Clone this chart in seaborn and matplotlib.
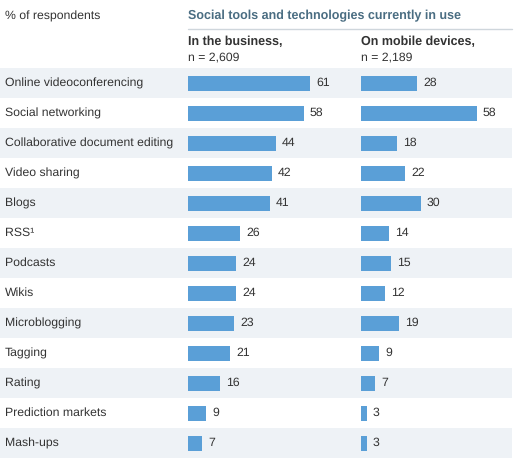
import numpy as np
import matplotlib
matplotlib.use('Agg')
import matplotlib.pyplot as plt
import pandas as pd
import seaborn as sns

# Datos
tools = ['Online videoconferencing', 'Social networking', 'Collaborative document editing',
         'Video sharing', 'Blogs', 'RSS¹', 'Podcasts', 'Wikis', 'Microblogging',
         'Tagging', 'Rating', 'Prediction markets', 'Mash-ups']
business = [61, 58, 44, 42, 41, 26, 24, 24, 23, 21, 16, 9, 7]
mobile = [28, 58, 18, 22, 30, 14, 15, 12, 19, 9, 7, 3, 3]
col_titles = ['In the business,', 'On mobile devices,']
col_n = ['n = 2,609', 'n = 2,189']

df = pd.DataFrame({'tool': tools, 'business': business, 'mobile': mobile})

sns.set_style('white')
plt.rcParams['font.family'] = ['Liberation Sans', 'DejaVu Sans']
plt.rcParams['text.hinting'] = 'no_hinting'
BAR = '#5a9fd7'
BAND = '#eef2f6'
TXT = '#333333'
FS = 8.8

W, H = 520, 467
fig = plt.figure(figsize=(W / 100, H / 100), dpi=100)

def frac(x0, y0, w, h):
    # caja en pixeles (origen arriba-izquierda) -> fraccion de figura
    return [x0 / W, 1 - (y0 + h) / H, w / W, h / H]

top, rows_h = 68, 390
n = len(tools)

# Fondo con bandas alternadas
bg = fig.add_axes(frac(0, top, 512, rows_h))
bg.set_xlim(0, 512)
bg.set_ylim(n - 0.5, -0.5)
for i in range(n):
    if i % 2 == 0:
        bg.axhspan(i - 0.5, i + 0.5, color=BAND, lw=0)
    bg.text(5, i, tools[i], va='center', ha='left', fontsize=FS, color=TXT)
bg.axis('off')

for k, (col, x0) in enumerate([('business', 188), ('mobile', 361)]):
    ax = fig.add_axes(frac(x0, top, 140, rows_h))
    ax.patch.set_alpha(0)
    sns.barplot(data=df, x=col, y='tool', color=BAR, width=0.5, ax=ax,
                saturation=1, orient='h', linewidth=0, edgecolor='none')
    ax.set_xlim(0, 70)
    ax.set_ylim(n - 0.5, -0.5)
    for i, v in enumerate(df[col]):
        ax.text(v + 3, i, str(v), va='center', ha='left', fontsize=FS, color=TXT)
    ax.axis('off')
    fig.text(x0 / W, 1 - 42 / H, col_titles[k], fontsize=9, fontweight='bold',
             color=TXT, va='center')
    fig.text(x0 / W, 1 - 57 / H, col_n[k], fontsize=FS, color=TXT, va='center')

fig.text(5 / W, 1 - 16 / H, '% of respondents', fontsize=FS, color=TXT, va='center')
fig.text(188 / W, 1 - 16 / H, 'Social tools and technologies currently in use',
         fontsize=9, fontweight='bold', color='#4a6d82', va='center')
fig.add_artist(plt.Line2D([188 / W, 512 / W], [1 - 29 / H, 1 - 29 / H],
                          color='#cfd6dc', lw=1))

plt.savefig('out.png', dpi=100)
